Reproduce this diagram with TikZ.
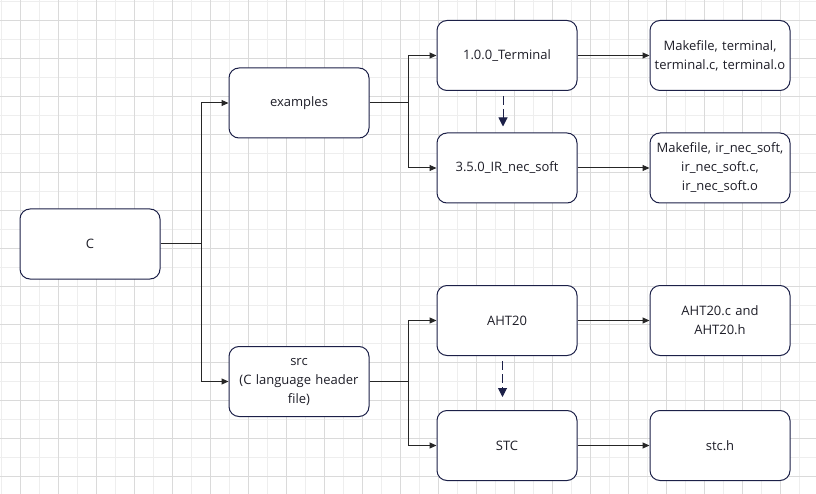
\documentclass[tikz,border=0pt]{standalone}
\usepackage{fontspec}
\setmainfont{Open Sans}
\usetikzlibrary{arrows.meta}
\definecolor{boxline}{RGB}{28,32,72}
\definecolor{txt}{RGB}{30,30,40}
\definecolor{gridminor}{RGB}{238,238,238}
\definecolor{gridmajor}{RGB}{218,218,218}
\begin{document}
\begin{tikzpicture}[x=1pt,y=-1pt,
  box/.style={draw=boxline, line width=1pt, fill=white, rounded corners=10pt,
    minimum width=140pt, minimum height=70pt, align=center, inner sep=2pt,
    text=txt, font=\fontsize{13}{19}\selectfont, text width=134pt},
  conn/.style={draw=black!85, line width=1pt, -{Triangle[length=7pt,width=6pt]}},
  dashconn/.style={draw=boxline, line width=1pt, dash pattern=on 9pt off 4pt,
    -{Triangle[length=9pt,width=9pt]}}]
\useasboundingbox (0,0) rectangle (816,494);
\fill[white] (0,0) rectangle (816,494);
% grid
\foreach \k in {0,...,43} {
  \pgfmathsetmacro\xx{1.7+19*\k}
  \draw[gridminor, line width=0.8pt] (\xx,0) -- (\xx,494);
}
\foreach \k in {0,...,26} {
  \pgfmathsetmacro\yy{1.7+19*\k}
  \draw[gridminor, line width=0.8pt] (0,\yy) -- (816,\yy);
}
\foreach \k in {0,...,21} {
  \pgfmathsetmacro\xx{20.7+38*\k}
  \draw[gridmajor, line width=0.8pt] (\xx,0) -- (\xx,494);
}
\foreach \k in {0,...,12} {
  \pgfmathsetmacro\yy{20.7+38*\k}
  \draw[gridmajor, line width=0.8pt] (0,\yy) -- (816,\yy);
}
% nodes
\node[box] (c) at (90,244) {C};
\node[box] (ex) at (299,103) {examples};
\node[box] (src) at (299,381.5) {src\\(C language header\\file)};
\node[box] (t) at (507,55.5) {1.0.0\_Terminal};
\node[box] (ir) at (507,168) {3.5.0\_IR\_nec\_soft};
\node[box] (tf) at (720,55.5) {Makefile, terminal,\\terminal.c, terminal.o};
\node[box] (irf) at (720,168) {Makefile, ir\_nec\_soft,\\ir\_nec\_soft.c,\\ir\_nec\_soft.o};
\node[box] (aht) at (507,320.5) {AHT20};
\node[box] (stc) at (507,445.5) {STC};
\node[box] (ahtf) at (720,320.5) {AHT20.c and\\AHT20.h};
\node[box] (stcf) at (720,445.5) {stc.h};
% junction coordinates
\coordinate (j1) at (201,244);
\coordinate (j2) at (408,103);
\coordinate (j3) at (408,381.5);
% connectors
\draw[conn] (c.east) -- (j1) |- (ex.west);
\draw[conn] (j1) |- (src.west);
\draw[conn] (ex.east) -- (j2) |- (t.west);
\draw[conn] (j2) |- (ir.west);
\draw[conn] (src.east) -- (j3) |- (aht.west);
\draw[conn] (j3) |- (stc.west);
\draw[conn] (t.east) -- (tf.west);
\draw[conn] (ir.east) -- (irf.west);
\draw[conn] (aht.east) -- (ahtf.west);
\draw[conn] (stc.east) -- (stcf.west);
% dashed
\coordinate (d1s) at ([xshift=-4pt,yshift=-5pt]t.south);
\coordinate (d1e) at ([xshift=-4pt,yshift=6pt]ir.north);
\coordinate (d2s) at ([xshift=-4.5pt,yshift=-5pt]aht.south);
\coordinate (d2e) at ([xshift=-4.5pt,yshift=13pt]stc.north);
\draw[dashconn] (d1s) -- (d1e);
\draw[dashconn] (d2s) -- (d2e);
\end{tikzpicture}
\end{document}
